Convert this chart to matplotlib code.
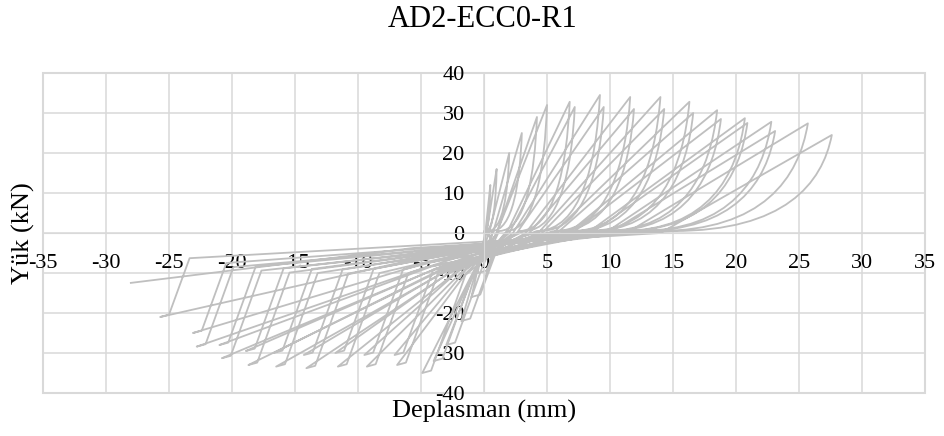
import matplotlib
matplotlib.use('Agg')
import matplotlib.pyplot as plt
import matplotlib.patches as patches
from matplotlib.path import Path

plt.rcParams['font.family'] = ['Liberation Serif', 'DejaVu Serif']
plt.rcParams['axes.unicode_minus'] = False

# tepe noktalari: her yukleme cevrimi icin (+) ve (-) yonde deplasman / yuk
pos_disp = [0.5, 1.0, 2.0, 3.0, 4.2, 5.0, 6.8, 7.2, 9.2, 9.5, 11.6, 11.9,
            14.0, 14.3, 16.3, 16.6, 18.5, 18.8, 20.7, 20.9, 22.8, 23.1, 25.7, 27.6]
pos_load = [12, 16, 20, 25, 29, 32, 32.8, 31.5, 34.5, 31.5, 34, 31,
            34, 31, 32.8, 30, 30.7, 28.5, 28.7, 27.5, 27.8, 25.5, 27.4, 24.5]
neg_disp = [-0.5, -1.0, -1.8, -3.0, -4.0, -4.9, -6.9, -7.1, -9.3, -9.5, -11.6, -11.8,
            -14.1, -14.3, -16.5, -16.7, -18.7, -18.9, -20.8, -21.0, -22.8, -23.1, -25.7, -28.1]
neg_load = [-10, -16, -22, -28, -32, -35, -33, -30.5, -33.4, -30.5, -33.4, -30,
            -33.8, -30.5, -33.4, -30, -33, -29.5, -31.3, -28, -28.4, -25, -21, -12.5]
# (+) yonde yeniden yuklemenin kalktigi deplasman (sikisma)
pinch_disp = [0.0, 0.1, 0.3, 0.6, 1.2, 1.8, 2.8, 3.2, 4.2, 4.5, 5.6, 5.9,
              7.0, 7.2, 8.3, 8.5, 9.6, 9.8, 10.9, 11.0, 12.2, 12.4, 13.8, 15.0]
# (+) yonde bosaltma sonrasi kalici deplasman
unload_res = [0.1, 0.2, 0.4, 0.7, 1.0, 1.0, 1.8, 2.0, 2.3, 2.6, 3.3, 3.6,
              4.3, 4.6, 5.5, 5.8, 6.7, 7.0, 8.2, 8.5, 9.6, 9.9, 11.3, 14.0]

line_color = '#bfbfbf'
grid_color = '#d9d9d9'

fig = plt.figure(figsize=(9.45, 4.36), dpi=100)
ax = fig.add_axes([0.0455, 0.0986, 0.9334, 0.734])

# histerezis egrisi
verts = [(0.0, 0.0)]
codes = [Path.MOVETO]
n = len(pos_disp)
for i in range(n):
    dp, fp = pos_disp[i], pos_load[i]
    dn, fn = neg_disp[i], neg_load[i]
    x0 = pinch_disp[i]
    # sikisma bolgesinden (+) tepeye yeniden yukleme
    verts += [(x0, 0.5), (x0 + 0.7 * (dp - x0), 0.02 * fp), (dp - 0.06 * (dp - x0), 0.5 * fp), (dp, fp)]
    codes += [Path.LINETO, Path.CURVE4, Path.CURVE4, Path.CURVE4]
    # bosaltma
    verts += [(unload_res[i], 0.0)]
    codes += [Path.LINETO]
    # (-) tepeye yukleme
    verts += [(dn * 0.2, fn * 0.3), (dn, fn)]
    codes += [Path.LINETO, Path.LINETO]
    if i < n - 1:
        verts += [(dn + 0.7, fn + 0.6), (dn + 0.7 + 0.7 * abs(fn) / 9, fn * 0.3)]
        codes += [Path.LINETO, Path.LINETO]

ax.add_patch(patches.PathPatch(Path(verts, codes), facecolor='none',
                               edgecolor=line_color, lw=1.3, joinstyle='round'))

ax.set_xlim(-35, 35)
ax.set_ylim(-40, 40)
ax.set_xticks(range(-35, 36, 5))
ax.set_yticks(range(-40, 41, 10))
ax.grid(color=grid_color, lw=1.1)
ax.set_axisbelow(True)

for side in ['top', 'right']:
    ax.spines[side].set_visible(False)
ax.spines['left'].set_position(('data', 0))
ax.spines['bottom'].set_position(('data', 0))
ax.spines['left'].set_color(grid_color)
ax.spines['bottom'].set_color(grid_color)
ax.patch.set_edgecolor(grid_color)
ax.patch.set_linewidth(1.5)

ax.tick_params(axis='both', length=0, labelsize=16)
ax.tick_params(axis='x', pad=15)
ax.tick_params(axis='y', pad=14)

ax.set_xlabel('Deplasman (mm)', fontsize=19)
ax.xaxis.set_label_coords(0.5, -0.058)
ax.xaxis.label.set_va('center')
ax.set_ylabel('Yük (kN)', fontsize=19)
ax.yaxis.set_label_coords(-0.022, 0.5)
ax.yaxis.label.set_va('center')

fig.text(0.511, 0.955, 'AD2-ECC0-R1', ha='center', va='center', fontsize=22)

fig.savefig('out.png', dpi=100)
